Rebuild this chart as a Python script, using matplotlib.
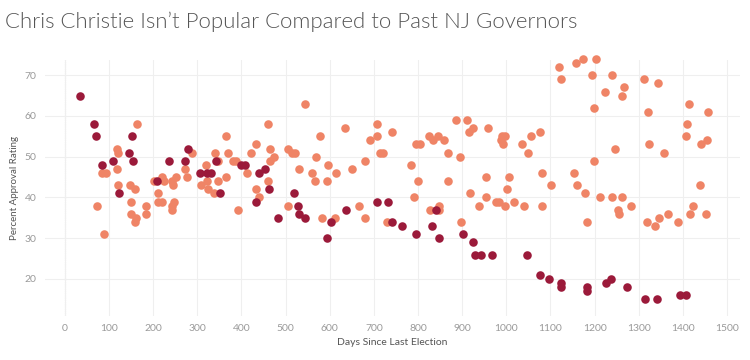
import matplotlib
matplotlib.use("Agg")
import matplotlib.pyplot as plt

# Christie (dark) -- days since election, approval %
christie_days = [34, 67, 70, 83, 110, 123, 146, 153, 154, 209, 236, 273, 278, 306, 321, 330,
                 342, 351, 399, 408, 433, 440, 453, 463, 483, 518, 529, 531, 544, 594, 602,
                 637, 706, 733, 742, 763, 796, 831, 841, 847, 903, 924, 929, 943, 967, 1048,
                 1077, 1096, 1125, 1125, 1182, 1182, 1226, 1238, 1274, 1315, 1342, 1393, 1407]
christie_approval = [65, 58, 55, 48, 49, 41, 51, 55, 49, 44, 49, 49, 52, 46, 46, 46,
                     49, 41, 48, 48, 39, 46, 47, 42, 35, 41, 38, 36, 35, 30, 34,
                     37, 39, 39, 34, 33, 31, 33, 37, 30, 31, 29, 26, 26, 26, 26,
                     21, 20, 19, 18, 18, 17, 19, 20, 18, 15, 15, 16, 16]

# past NJ governors (salmon)
past_days = [72, 89, 85, 94, 117, 119, 120, 121, 147, 150, 150, 160, 162, 160, 163, 183, 183,
             202, 212, 212, 221, 220, 224, 242, 245, 251, 242, 243, 247, 273, 276, 288, 309,
             319, 321, 324, 341, 338, 348, 347, 366, 370, 365, 381, 387, 393, 412, 421, 433,
             434, 440,
             460, 465, 464, 474, 460, 505, 515, 521, 531, 544, 505, 560, 566, 569, 577, 583,
             596, 594, 615, 612, 634, 651, 666, 681, 681, 692, 706, 706, 714, 720, 741, 729,
             785, 795, 804, 799, 792, 825, 835, 846, 859, 868, 868, 828, 848, 848, 887, 894,
             898, 911, 916, 925, 917, 938, 953, 953, 958, 977, 983, 987, 990, 998, 992, 998,
             1001, 1007,
             1017, 1035, 1040, 1049, 1057, 1077, 1080, 1082, 1101, 1119, 1125, 1153, 1159,
             1161, 1174, 1178, 1183, 1195, 1198, 1198, 1203, 1212, 1224, 1239, 1239, 1247,
             1254, 1256, 1261, 1261, 1267, 1283, 1313, 1318, 1322, 1323, 1338, 1344, 1347,
             1357, 1366, 1388, 1406, 1409, 1413, 1416, 1422, 1438, 1442, 1452, 1454, 1458]
past_approval = [38, 31, 46, 46, 47, 52, 51, 43, 43, 39, 36, 42, 35, 34, 58, 38, 36,
                 44, 41, 39, 39, 45, 44, 44, 43, 45, 38, 37, 39, 47, 45, 51, 43,
                 48, 44, 42, 51, 41, 49, 44, 55, 51, 45, 49, 49, 37, 46, 51, 53,
                 42, 40,
                 58, 52, 49, 50, 44, 52, 51, 51, 47, 63, 38, 46, 44, 50, 55, 35,
                 48, 44, 46, 35, 57, 47, 38, 49, 35, 54, 58, 55, 51, 51, 56, 34,
                 48, 53, 53, 44, 40, 55, 54, 55, 54, 51, 44, 37, 38, 37, 59, 50,
                 34, 59, 56, 57, 41, 38, 45, 40, 57, 39, 39, 54, 55, 55, 53, 38,
                 42, 45,
                 39, 53, 38, 51, 55, 56, 38, 46, 43, 72, 69, 46, 73,
                 43, 74, 41, 34, 70, 62, 49, 74, 40, 66, 70, 40, 52,
                 37, 36, 65, 40, 67, 38, 69, 34, 61, 53, 33, 68, 35,
                 51, 36, 34, 55, 58, 63, 36, 38, 43, 53, 36, 54, 61]

x_ticks = list(range(0, 1501, 100))
y_ticks = [20, 30, 40, 50, 60, 70]

DARK = "#9b1a3a"
SALMON = "#ef8466"


def main():
    plt.rcParams["font.family"] = ["Lato", "DejaVu Sans"]
    fig = plt.figure(figsize=(7.5, 3.6), dpi=100)
    ax = fig.add_axes([0.06, 0.122, 0.927, 0.711])

    ax.scatter(past_days, past_approval, s=38, color=SALMON, linewidths=0,
               zorder=3, clip_on=False)
    ax.scatter(christie_days, christie_approval, s=38, color=DARK, linewidths=0,
               zorder=4, clip_on=False)

    ax.set_xlim(-45, 1530)
    ax.set_ylim(10.9, 73.7)
    ax.set_xticks(x_ticks)
    ax.set_yticks(y_ticks)
    ax.grid(True, color="#efefef", linewidth=0.8, zorder=0)
    ax.axvline(0, color="#cccccc", linestyle=(0, (1, 1)), linewidth=0.8, zorder=1)
    for sp in ax.spines.values():
        sp.set_visible(False)
    ax.tick_params(length=0, labelsize=7.5, colors="#9a9a9a", pad=6)

    ax.set_xlabel("Days Since Last Election", fontsize=7.5, color="#555555", labelpad=3)
    ax.set_ylabel("Percent Approval Rating", fontsize=7, color="#555555", labelpad=4)

    fig.text(0.007, 0.94, "Chris Christie Isn\u2019t Popular Compared to Past NJ Governors",
             fontsize=16, color="#555555", fontweight=300, va="center", ha="left")

    fig.savefig("out.png", dpi=100)
    plt.close(fig)


if __name__ == "__main__":
    main()
